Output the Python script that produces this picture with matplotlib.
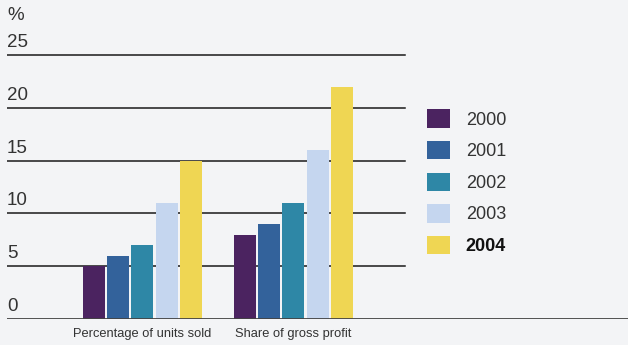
import matplotlib.pyplot as plt
import matplotlib.transforms as mtransforms
from matplotlib.patches import Patch

plt.rcParams['font.family'] = ['Liberation Sans', 'DejaVu Sans']

# data
categories = ['Percentage of units sold', 'Share of gross profit']
years = ['2000', '2001', '2002', '2003', '2004']
values = {
    '2000': [5, 8],
    '2001': [6, 9],
    '2002': [7, 11],
    '2003': [11, 16],
    '2004': [15, 22],
}
yticks = [0, 5, 10, 15, 20, 25]

colors = ['#4b2360', '#33629b', '#2e87a6', '#c5d6ef', '#efd653']
bg = '#f3f4f6'
txt = '#333333'

W, H = 628, 345
fig = plt.figure(figsize=(W / 100, H / 100), dpi=100, facecolor=bg)

# axes placed in pixel terms: zero line at y=319, 10.56 px per unit
px_per_unit = 264 / 25
ytop = 26
ax_left, ax_right = 7, 628
ax_bottom = 319
ax_h = ytop * px_per_unit
ax = fig.add_axes([ax_left / W, (H - ax_bottom) / H, (ax_right - ax_left) / W, ax_h / H])
ax.set_facecolor(bg)
for s in ax.spines.values():
    s.set_visible(False)
ax.set_xticks([])
ax.set_yticks([])

# group centres at 0 and 1 (151 px apart)
grp_px = 151.0
c0 = 142.5
ax.set_xlim((ax_left - c0) / grp_px, (ax_right - c0) / grp_px)
ax.set_ylim(0, ytop)

step = 24.3 / grp_px
bw = 22.0 / grp_px
for i, (yr, col) in enumerate(zip(years, colors)):
    xs = [g + (i - 2) * step for g in range(len(categories))]
    ax.bar(xs, values[yr], width=bw, color=col, zorder=3, linewidth=0)

# gridlines
grid_frac = (405 - ax_left) / (ax_right - ax_left)
for v in yticks[1:]:
    ax.axhline(v, xmin=0, xmax=grid_frac, color='#1a1a1a', lw=1.1, zorder=2)
ax.axhline(0, xmin=0, xmax=1, color='#444444', lw=1.3, zorder=4)

# tick labels sit just above their gridlines
off = mtransforms.offset_copy(ax.get_yaxis_transform(), fig=fig, x=0, y=4, units='dots')
for v in yticks:
    ax.text(0.0, v, str(v), transform=off, ha='left', va='bottom',
            fontsize=13.5, color=txt)
ax.text(0.0, 25, '%', transform=mtransforms.offset_copy(
    ax.get_yaxis_transform(), fig=fig, x=0, y=31, units='dots'),
    ha='left', va='bottom', fontsize=13.5, color=txt)

# category labels
for g, cat in enumerate(categories):
    ax.text(g, 0, cat, transform=mtransforms.offset_copy(
        ax.transData, fig=fig, x=0, y=-9, units='dots'),
        ha='center', va='top', fontsize=9.3, color=txt)

# legend
handles = [Patch(facecolor=c, edgecolor='none') for c in colors]
leg = fig.legend(handles, years, loc='upper left',
                 bbox_to_anchor=(411 / W, 1 - 93 / H),
                 frameon=False, fontsize=13, handlelength=1.28,
                 handleheight=1.2, handletextpad=0.85, labelspacing=0.68)
for t in leg.get_texts():
    t.set_color(txt)
leg.get_texts()[-1].set_fontweight('bold')
leg.get_texts()[-1].set_color('#111111')

fig.savefig('out.png', dpi=100, facecolor=bg)
